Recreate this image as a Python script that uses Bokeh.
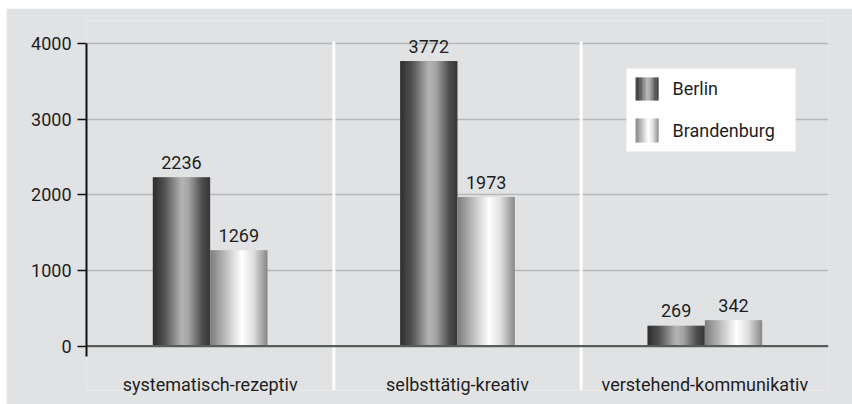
import numpy as np
from bokeh.plotting import figure
from bokeh.layouts import column, row
from bokeh.models import Range1d, FixedTicker, Spacer
from bokeh.embed import file_html
from bokeh.resources import INLINE
from bokeh.core.properties import value

# ---------------- data ----------------
categories = ["systematisch-rezeptiv", "selbsttätig-kreativ", "verstehend-kommunikativ"]
series_names = ["Berlin", "Brandenburg"]
berlin = [2236, 3772, 269]
brandenburg = [1269, 1973, 342]
y_ticks = [0, 1000, 2000, 3000, 4000]

# ---------------- style ----------------
FONT = "Roboto"
BG = "#e1e2e4"
TXT = "#1e1e1e"
BAR_W = 0.232
N_STRIPS = 30
SEP_TOP = 4030      # separators stop just above the top grid line
berlin_stops = [(0.0, 0x2e), (0.2, 0x50), (0.5, 0xb4), (0.62, 0xa6), (0.86, 0x4c), (1.0, 0x38)]
brand_stops = [(0.0, 0x7c), (0.3, 0xc4), (0.55, 0xff), (0.75, 0xe0), (1.0, 0x86)]


def shade(stops, t):
    xs = [s[0] for s in stops]
    vs = [s[1] for s in stops]
    v = int(round(float(np.interp(t, xs, vs))))
    return "#%02x%02x%02x" % (v, v, v)


def gradient_rects(p, lefts, rights, bottoms, tops, stops):
    L, R, B, T, C = [], [], [], [], []
    for l, r, b, t in zip(lefts, rights, bottoms, tops):
        w = (r - l) / N_STRIPS
        for k in range(N_STRIPS):
            x0 = l + k * w
            x1 = min(r, x0 + w * 1.4)
            L.append(x0); R.append(x1); B.append(b); T.append(t)
            C.append(shade(stops, (k + 0.5) / N_STRIPS))
    p.quad(left=L, right=R, bottom=B, top=T, fill_color=C, line_color=None)


p = figure(width=846, height=396,
           x_range=Range1d(0, 3), y_range=Range1d(-586, 4308),
           output_backend="svg", toolbar_location=None,
           min_border_left=80, min_border_right=24,
           min_border_top=12, min_border_bottom=14,
           background_fill_color=BG, border_fill_color=BG,
           outline_line_color=None)

# grid
p.xgrid.visible = False
p.ygrid.ticker = FixedTicker(ticks=y_ticks[1:])
p.ygrid.grid_line_color = "#b6b7b9"
p.ygrid.grid_line_width = 1.6

# y axis
p.yaxis.ticker = FixedTicker(ticks=y_ticks)
p.yaxis.bounds = (-136, 4000)
p.yaxis.axis_line_color = "#111111"
p.yaxis.axis_line_width = 2
p.yaxis.major_tick_line_color = "#111111"
p.yaxis.major_tick_line_width = 1.6
p.yaxis.major_tick_out = 9
p.yaxis.major_tick_in = 0
p.yaxis.minor_tick_line_color = None
p.yaxis.major_label_standoff = 6
p.yaxis.major_label_text_font = FONT
p.yaxis.major_label_text_font_size = "18px"
p.yaxis.major_label_text_color = TXT

# x axis (category labels)
centers = [i + 0.5 for i in range(len(categories))]
p.xaxis.ticker = FixedTicker(ticks=centers)
p.xaxis.major_label_overrides = {c: name for c, name in zip(centers, categories)}
p.xaxis.axis_line_color = None
p.xaxis.major_tick_line_color = None
p.xaxis.minor_tick_line_color = None
p.xaxis.major_tick_out = 0
p.xaxis.major_tick_in = 0
p.xaxis.major_label_standoff = -17
p.xaxis.major_label_text_font = FONT
p.xaxis.major_label_text_font_size = "18px"
p.xaxis.major_label_text_color = TXT

# white separators between categories
seps = list(range(1, len(categories)))
p.segment(x0=seps, x1=seps, y0=[p.y_range.start] * len(seps), y1=[SEP_TOP] * len(seps),
          line_color="white", line_width=3)

# bars
gradient_rects(p, [c - BAR_W for c in centers], centers, [0] * 3, berlin, berlin_stops)
gradient_rects(p, centers, [c + BAR_W for c in centers], [0] * 3, brandenburg, brand_stops)

# baseline
p.segment(x0=[0], x1=[3], y0=[0], y1=[0], line_color="#5a5c5b", line_width=2.2)

# value labels
p.text(x=[c - BAR_W / 2 for c in centers], y=berlin, text=[str(v) for v in berlin],
       text_align="center", text_baseline="alphabetic", y_offset=-15,
       text_font=value(FONT), text_font_size="18px", text_color=TXT)
p.text(x=[c + BAR_W / 2 for c in centers], y=brandenburg, text=[str(v) for v in brandenburg],
       text_align="center", text_baseline="alphabetic", y_offset=-15,
       text_font=value(FONT), text_font_size="18px", text_color=TXT)

# legend (drawn manually, gradient swatches)
p.quad(left=[2.183], right=[2.867], bottom=[2575], top=[3673], fill_color="white", line_color=None)
gradient_rects(p, [2.220], [2.313], [3250], [3554], berlin_stops)
gradient_rects(p, [2.220], [2.313], [2694], [3012], brand_stops)
p.text(x=[2.369, 2.369], y=[3402, 2853], text=series_names,
       text_align="left", text_baseline="middle",
       text_font=value(FONT), text_font_size="18px", text_color=TXT)

layout = column(Spacer(height=8), row(Spacer(width=6), p))
open("out.html", "w").write(file_html(layout, INLINE))
